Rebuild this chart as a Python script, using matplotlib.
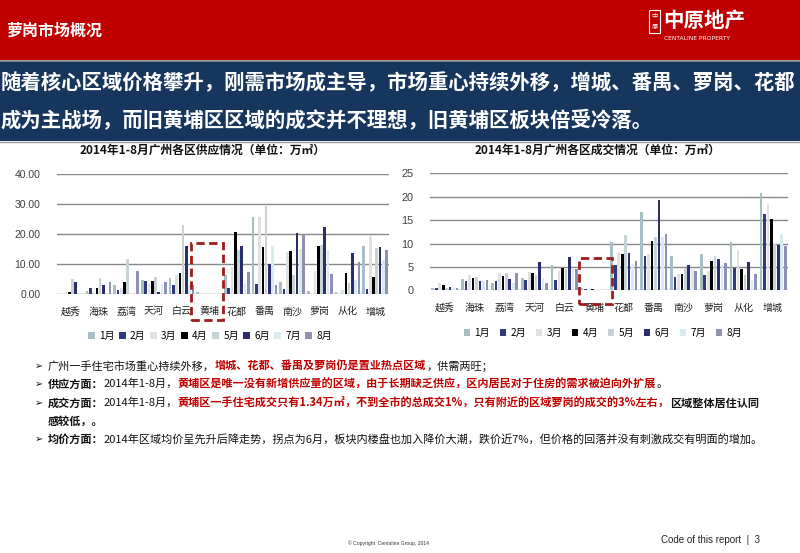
import matplotlib
matplotlib.use('Agg')
import matplotlib.pyplot as plt
from matplotlib.patches import Rectangle
import numpy as np

plt.rcParams['font.family'] = ['Noto Sans CJK SC', 'DejaVu Sans']

# ---------------- data ----------------
districts = ['越秀', '海珠', '荔湾', '天河', '白云', '黄埔', '花都', '番禺', '南沙', '萝岗', '从化', '增城']
months = ['1月', '2月', '3月', '4月', '5月', '6月', '7月', '8月']

supply_m1 = [0, 1.1, 3.1, 4.8, 5.4, 0.8, 6.4, 25.7, 4.1, 1.1, 0.8, 15.9]
supply_m2 = [0, 2.1, 1.4, 4.4, 3.1, 0, 2.1, 3.4, 1.7, 0, 0, 1.7]
supply_m3 = [0.8, 0.6, 2.1, 3.3, 6.2, 0, 9.1, 25.7, 14.0, 7.7, 1.4, 19.2]
supply_m4 = [0.8, 2.1, 4.1, 4.4, 7.0, 0, 20.5, 15.6, 14.2, 15.8, 7.0, 5.7]
supply_m5 = [5.1, 5.4, 11.7, 5.8, 22.9, 0, 14.6, 29.1, 6.3, 16.2, 3.7, 15.3]
supply_m6 = [4.1, 3.1, 0, 0.8, 16.0, 0, 15.9, 9.8, 20.4, 22.2, 13.7, 15.6]
supply_m7 = [0, 0, 0, 3.4, 3.0, 0, 3.4, 15.9, 14.9, 14.6, 4.7, 11.3]
supply_m8 = [0, 4.1, 7.7, 4.1, 3.1, 0, 7.4, 3.1, 19.5, 6.7, 10.7, 14.6]

deal_m1 = [0.4, 2.4, 1.6, 2.7, 5.4, 0.45, 10.3, 16.7, 7.3, 7.8, 10.3, 20.8]
deal_m2 = [0.5, 2.0, 1.9, 2.2, 2.2, 0.25, 5.4, 7.3, 2.8, 3.3, 4.8, 16.4]
deal_m3 = [1.6, 3.3, 3.8, 4.0, 4.2, 0.15, 8.0, 7.8, 3.5, 4.1, 8.6, 18.4]
deal_m4 = [1.1, 2.6, 3.1, 3.7, 4.8, 0.25, 7.8, 10.5, 3.5, 6.3, 4.6, 15.2]
deal_m5 = [0.4, 2.9, 3.8, 3.3, 4.6, 0.1, 11.8, 11.4, 4.8, 7.3, 3.3, 9.9]
deal_m6 = [0.7, 2.0, 2.4, 6.1, 7.1, 0.05, 8.0, 19.3, 5.4, 6.7, 6.1, 9.7]
deal_m7 = [0.4, 1.9, 1.6, 2.7, 4.8, 0.05, 5.6, 11.4, 4.8, 5.4, 2.2, 12.1]
deal_m8 = [0.5, 2.2, 3.8, 1.6, 4.6, 0.04, 6.3, 12.0, 4.1, 5.8, 3.5, 9.5]

supply_ticks = [0, 10, 20, 30, 40]
supply_ticklabels = ['0.00', '10.00', '20.00', '30.00', '40.00']
deal_ticks = [0, 5, 10, 15, 20, 25]
deal_ticklabels = ['0', '5', '10', '15', '20', '25']

supply = [supply_m1, supply_m2, supply_m3, supply_m4, supply_m5, supply_m6, supply_m7, supply_m8]
deal = [deal_m1, deal_m2, deal_m3, deal_m4, deal_m5, deal_m6, deal_m7, deal_m8]

colors = ['#A5BFC3', '#2E3A7C', '#E0E0E0', '#000000', '#C6D4D7', '#2B2D6C', '#D8EBEF', '#8E90B4']

title_supply = '2014年1-8月广州各区供应情况（单位：万㎡）'
title_deal = '2014年1-8月广州各区成交情况（单位：万㎡）'

# ---------------- figure ----------------
W, H = 800, 553
fig = plt.figure(figsize=(W / 100, H / 100), dpi=100)
fig.patch.set_facecolor('white')

def fx(px):
    return px / W

def fy(py):
    return 1 - py / H

# header bands
fig.patches.append(Rectangle((0, fy(60)), 1, 60 / H, transform=fig.transFigure,
                             facecolor='#C00000', edgecolor='none', zorder=0))
fig.patches.append(Rectangle((0, fy(141)), 1, 80 / H, transform=fig.transFigure,
                             facecolor='#17365D', edgecolor='none', zorder=0))
fig.lines.append(plt.Line2D([0, 1], [fy(61), fy(61)], transform=fig.transFigure,
                            color='#8A8A8A', lw=1.2))
fig.lines.append(plt.Line2D([0, 1], [fy(141.5), fy(141.5)], transform=fig.transFigure,
                            color='#9A9A9A', lw=1.0))

fig.text(fx(6), fy(31), '萝岗市场概况', color='white', fontsize=11.5, fontweight='bold',
         va='center', ha='left')

# logo
fig.patches.append(Rectangle((fx(649), fy(33)), 11 / W, 23 / H, transform=fig.transFigure,
                             facecolor='none', edgecolor='white', lw=0.8))
fig.text(fx(654.5), fy(16), '中', color='white', fontsize=4.5, ha='center', va='center')
fig.text(fx(654.5), fy(27), '原', color='white', fontsize=4.5, ha='center', va='center')
fig.text(fx(663), fy(20), '中原地产', color='white', fontsize=14.8, fontweight='bold',
         ha='left', va='center')
fig.text(fx(664), fy(39), 'CENTALINE PROPERTY', color='white', fontsize=4.3,
         ha='left', va='center', family=['Liberation Sans Narrow', 'DejaVu Sans'])

fig.text(fx(0.5), fy(83), '随着核心区域价格攀升，刚需市场成主导，市场重心持续外移，增城、番禺、萝岗、花都',
         color='white', fontsize=14.65, fontweight='bold', ha='left', va='center')
fig.text(fx(0.5), fy(121), '成为主战场，而旧黄埔区区域的成交并不理想，旧黄埔区板块倍受冷落。',
         color='white', fontsize=14.65, fontweight='bold', ha='left', va='center')

# ---------------- charts ----------------
def draw_chart(rect, data, ticks, ticklabels, ymax, pitch, width):
    ax = fig.add_axes(rect)
    x = np.arange(len(districts))
    bars = []
    for j, series in enumerate(data):
        off = (j - 3.5) * pitch
        b = ax.bar(x + off, series, width, color=colors[j], label=months[j], zorder=3)
        bars.append(b)
    ax.set_xlim(-0.5, len(districts) - 0.5)
    ax.set_ylim(0, ymax)
    ax.set_yticks(ticks)
    ax.set_yticklabels(ticklabels, fontsize=7.5, color='#404040',
                       family=['Liberation Sans', 'DejaVu Sans'])
    ax.set_xticks(x)
    ax.set_xticklabels(districts, fontsize=7.2, color='#222222')
    ax.tick_params(axis='both', length=0)
    ax.tick_params(axis='x', pad=9)
    ax.tick_params(axis='y', pad=12)
    for s in ax.spines.values():
        s.set_visible(False)
    ax.grid(axis='y', color='#888888', lw=1.0, zorder=0)
    ax.set_facecolor('none')
    return ax, bars

ax1, bars1 = draw_chart([fx(57), fy(294), 332 / W, (294 - 173.5) / H], supply,
                        supply_ticks, supply_ticklabels, 40, 0.118, 0.095)
ax2, bars2 = draw_chart([fx(430), fy(290.3), 358 / W, (290.3 - 173.3) / H], deal,
                        deal_ticks, deal_ticklabels, 25, 0.116, 0.09)
for lbl in ax2.get_yticklabels():
    lbl.set_fontsize(7.8)

fig.text(fx(203), fy(150), title_supply, fontsize=8.5, fontweight='bold',
         ha='center', va='center', color='#111111')
fig.text(fx(598), fy(150), title_deal, fontsize=8.5, fontweight='bold',
         ha='center', va='center', color='#111111')

leg1 = ax1.legend(handles=[b for b in bars1], labels=months, ncol=8, loc='center',
                  bbox_to_anchor=(fx(210), fy(336)), bbox_transform=fig.transFigure,
                  frameon=False, fontsize=7.2, handlelength=0.65, handleheight=0.65,
                  handletextpad=0.45, columnspacing=0.45, borderpad=0)
leg2 = ax2.legend(handles=[b for b in bars2], labels=months, ncol=8, loc='center',
                  bbox_to_anchor=(fx(603), fy(333)), bbox_transform=fig.transFigure,
                  frameon=False, fontsize=7.2, handlelength=0.65, handleheight=0.65,
                  handletextpad=0.45, columnspacing=0.95, borderpad=0)

# red dashed boxes around 黄埔
hp = districts.index('黄埔')
ax1.add_patch(Rectangle((hp - 0.66, -8.6), 1.16, 25.4, fill=False, edgecolor='#A01C1C',
                        lw=2.0, ls=(0, (3, 1.6)), clip_on=False, zorder=5))
ax2.add_patch(Rectangle((hp - 0.51, -2.9), 1.11, 9.8, fill=False, edgecolor='#A01C1C',
                        lw=2.0, ls=(0, (3, 1.6)), clip_on=False, zorder=5))

# ---------------- bullet text ----------------
fig.canvas.draw()
renderer = fig.canvas.get_renderer()

RED = '#C00000'
BLK = '#111111'
FS = 8.0

def rich(x_px, y_px, parts):
    x = x_px
    for text, color, weight in parts:
        t = fig.text(fx(x), fy(y_px), text, color=color, fontweight=weight, fontsize=FS,
                     ha='left', va='center')
        bb = t.get_window_extent(renderer)
        x += bb.width

def bullet(y_px):
    fig.text(fx(35), fy(y_px), '➢', fontsize=7, ha='left', va='center', color=BLK,
             family=['DejaVu Sans'])

bullet(366)
rich(48, 366, [('广州一手住宅市场重心持续外移，', BLK, 'normal'),
               ('增城、花都、番禺及萝岗仍是置业热点区域', RED, 'bold'),
               ('，供需两旺；', BLK, 'normal')])
bullet(384)
rich(48, 384, [('供应方面：', BLK, 'bold'),
               ('2014年1-8月，', BLK, 'normal'),
               ('黄埔区是唯一没有新增供应量的区域，由于长期缺乏供应，区内居民对于住房的需求被迫向外扩展', RED, 'bold'),
               ('。', BLK, 'normal')])
bullet(403)
rich(48, 403, [('成交方面：', BLK, 'bold'),
               ('2014年1-8月，', BLK, 'normal'),
               ('黄埔区一手住宅成交只有1.34万㎡，不到全市的总成交1%，只有附近的区域萝岗的成交的3%左右，', RED, 'bold'),
               ('区域整体居住认同', BLK, 'bold')])
rich(48, 421, [('感较低，。', BLK, 'bold')])
bullet(439)
rich(48, 439, [('均价方面：', BLK, 'bold'),
               ('2014年区域均价呈先升后降走势，拐点为6月，板块内楼盘也加入降价大潮，跌价近7%，但价格的回落并没有刺激成交有明面的增加。', BLK, 'normal')])

# footer
fig.text(fx(348), fy(543), '© Copyright  Centaline Group, 2014', fontsize=3.6, color='#333333',
         ha='left', va='center', family=['Liberation Sans', 'DejaVu Sans'])
fig.text(fx(760), fy(540), 'Code of this report  |  3', fontsize=7, color='#222222',
         ha='right', va='center', family=['Liberation Sans', 'DejaVu Sans'])

fig.savefig('out.png', dpi=100)
